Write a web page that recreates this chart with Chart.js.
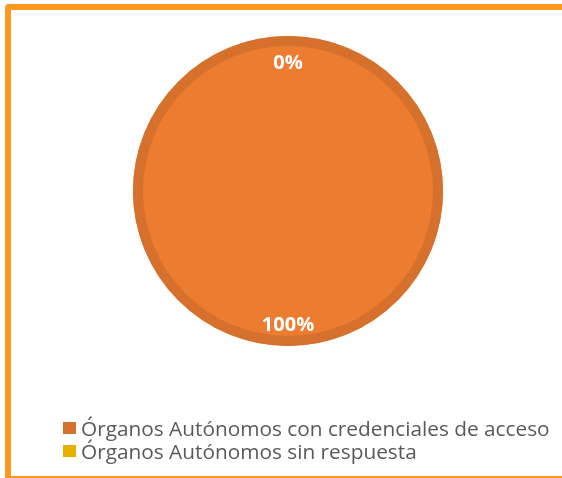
<!DOCTYPE html>
<html>
<head>
<meta charset="utf-8">
<script src="https://cdn.jsdelivr.net/npm/chart.js@4/dist/chart.umd.min.js"></script>
<style>
  html, body { margin: 0; padding: 0; background: #fff; overflow: hidden; }
  #wrap { position: relative; width: 562px; height: 478px; overflow: hidden; }
  #frame { position: absolute; left: 5px; top: 4px; width: 600px; height: 466px;
           border: 6px solid #FF9820; border-right: none; border-radius: 4px; }
  #c { position: absolute; left: 0; top: 0; }
  #legend { position: absolute; left: 63px; top: 416px; font-family: "Open Sans", sans-serif;
            font-size: 20.8px; color: #595959; }
  .item { height: 23px; display: flex; align-items: center; white-space: nowrap; }
  .sw { width: 13px; height: 12px; margin-right: 5px; flex: none; }
</style>
</head>
<body>
<div id="wrap">
  <div id="frame"></div>
  <canvas id="c" width="562" height="478"></canvas>
  <div id="legend"></div>
</div>
<script>
const categories = ["Órganos Autónomos con credenciales de acceso", "Órganos Autónomos sin respuesta"];
const values = [100, 0];
const valueLabels = ["100%", "0%"];
const fillColors = ["#EC7C30", "#E6B000"];
const legendColors = ["#D5702D", "#E6B000"];

const ringAndLabels = {
  id: "ringAndLabels",
  afterDatasetsDraw(chart) {
    const ctx = chart.ctx;
    const meta = chart.getDatasetMeta(0);
    const first = meta.data[0].getProps(["x", "y", "outerRadius"], true);
    ctx.save();
    ctx.strokeStyle = legendColors[0];
    ctx.lineWidth = 10;
    ctx.beginPath();
    ctx.arc(first.x, first.y, first.outerRadius - 5, 0, Math.PI * 2);
    ctx.stroke();
    ctx.font = "bold 20px 'Open Sans', sans-serif";
    ctx.fillStyle = "#ffffff";
    ctx.textAlign = "center";
    ctx.textBaseline = "middle";
    meta.data.forEach((arc, i) => {
      const p = arc.getProps(["x", "y", "startAngle", "endAngle", "outerRadius"], true);
      const mid = (p.startAngle + p.endAngle) / 2;
      const r = p.outerRadius * 0.845;
      ctx.fillText(valueLabels[i], p.x + Math.cos(mid) * r, p.y + Math.sin(mid) * r + 3);
    });
    ctx.restore();
  }
};

new Chart(document.getElementById("c"), {
  type: "pie",
  data: {
    labels: categories,
    datasets: [{
      data: values,
      backgroundColor: fillColors,
      borderWidth: 0
    }]
  },
  options: {
    responsive: false,
    animation: false,
    layout: { padding: { left: 133, top: 36, right: 119, bottom: 132 } },
    plugins: { legend: { display: false }, tooltip: { enabled: false } }
  },
  plugins: [ringAndLabels]
});

const lg = document.getElementById("legend");
categories.forEach((name, i) => {
  const row = document.createElement("div");
  row.className = "item";
  const sw = document.createElement("span");
  sw.className = "sw";
  sw.style.background = legendColors[i];
  const t = document.createElement("span");
  t.textContent = name;
  row.appendChild(sw); row.appendChild(t);
  lg.appendChild(row);
});
</script>
</body>
</html>
